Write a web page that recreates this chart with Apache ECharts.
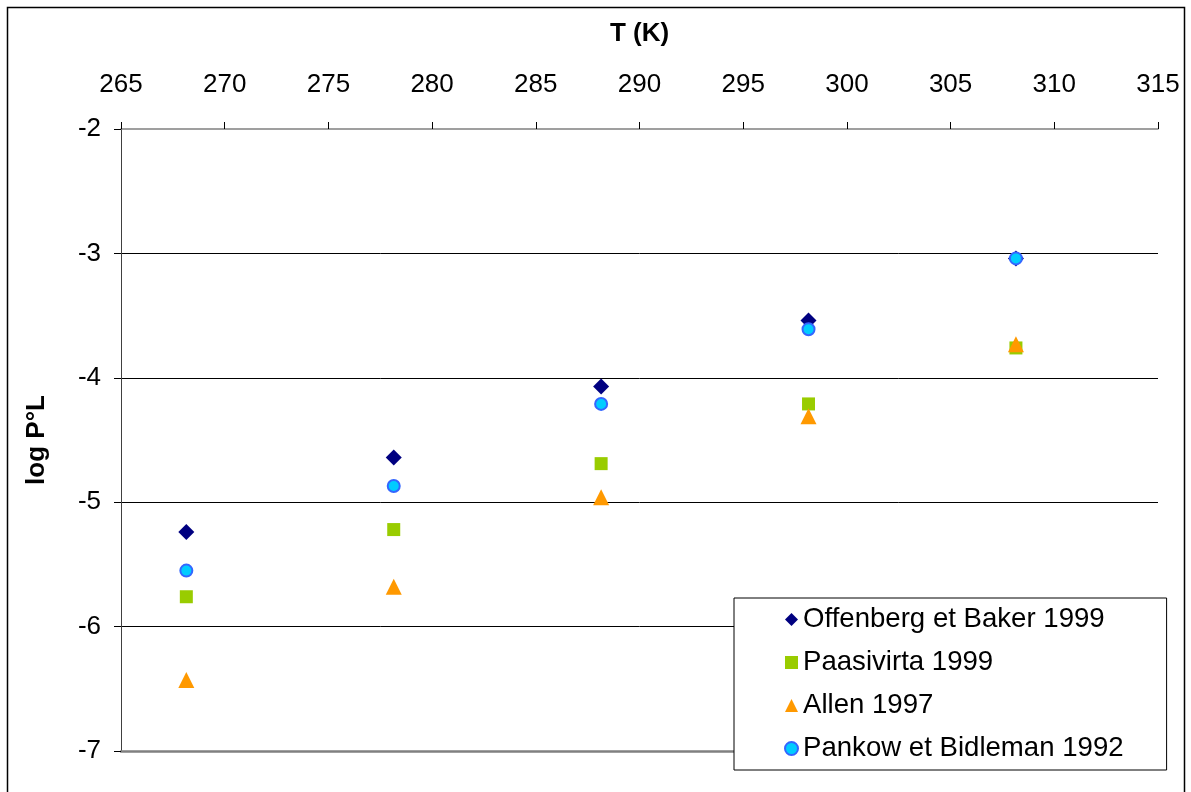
<!DOCTYPE html>
<html><head><meta charset="utf-8">
<script src="https://cdn.jsdelivr.net/npm/echarts@6/dist/echarts.min.js"></script>
<style>html,body{margin:0;padding:0;background:#fff}#c{width:1191px;height:792px}</style>
</head><body><div id="c"></div>
<script>
const temps = [268.15, 278.15, 288.15, 298.15, 308.15];
const offenberg = [-5.24, -4.64, -4.07, -3.54, -3.04];
const paasivirta = [-5.76, -5.22, -4.69, -4.21, -3.76];
const allen = [-6.43, -5.68, -4.96, -4.31, -3.73];
const pankow = [-5.55, -4.87, -4.21, -3.61, -3.04];
const seriesNames = ['Offenberg et Baker 1999', 'Paasivirta 1999', 'Allen 1997', 'Pankow et Bidleman 1992'];

const pair = v => temps.map((t, i) => [t, v[i]]);
const F = '"Liberation Sans", Arial, sans-serif';
const chart = echarts.init(document.getElementById('c'), null, {renderer: 'canvas'});
chart.setOption({
  animation: false,
  backgroundColor: '#fff',
  textStyle: {fontFamily: F},
  graphic: [{type: 'rect', shape: {x: 7.5, y: 7.5, width: 1177, height: 800}, style: {fill: 'none', stroke: '#000', lineWidth: 1.5}, z: 100}],
  grid: {left: 121, right: 33, top: 129, bottom: 41},
  xAxis: [{
    type: 'value', position: 'top', min: 265, max: 315, interval: 5,
    name: 'T (K)', nameLocation: 'middle', nameGap: 82,
    nameTextStyle: {fontSize: 26, fontWeight: 'bold', color: '#000', fontFamily: F},
    axisLine: {show: true, lineStyle: {color: '#808080', width: 1.5}},
    axisTick: {show: true, inside: false, length: 7, lineStyle: {color: '#000'}},
    axisLabel: {fontSize: 26, color: '#000', margin: 31, fontFamily: F},
    splitLine: {show: false}
  }, {
    type: 'value', position: 'bottom', min: 265, max: 315, interval: 5,
    axisLine: {show: true, onZero: false, lineStyle: {color: '#808080', width: 2.5}},
    axisTick: {show: false}, axisLabel: {show: false}, splitLine: {show: false}
  }],
  yAxis: {
    type: 'value', min: -7, max: -2, interval: 1,
    name: 'log P°L', nameLocation: 'middle', nameGap: 71, nameRotate: 90,
    nameTextStyle: {fontSize: 26, fontWeight: 'bold', color: '#000', fontFamily: F},
    axisLine: {show: true, onZero: false, lineStyle: {color: '#404040', width: 1}},
    axisTick: {show: true, inside: false, length: 7, lineStyle: {color: '#000'}},
    axisLabel: {fontSize: 26, color: '#000', margin: 20, fontFamily: F},
    splitLine: {show: true, showMinLine: false, showMaxLine: false, lineStyle: {color: '#000', width: 1}}
  },
  legend: {
    orient: 'vertical', left: 734, top: 598,
    padding: [7, 43, 7, 50], itemGap: 14,
    itemWidth: 13, itemHeight: 13,
    backgroundColor: '#fff', borderColor: '#000', borderWidth: 1,
    textStyle: {fontSize: 27.6, color: '#000', fontFamily: F, lineHeight: 29},
    data: seriesNames
  },
  series: [
    {name: seriesNames[0], type: 'scatter', data: pair(offenberg), symbol: 'diamond', symbolSize: 16,
     itemStyle: {color: '#000080', opacity: 1}},
    {name: seriesNames[1], type: 'scatter', data: pair(paasivirta), symbol: 'rect', symbolSize: 13,
     itemStyle: {color: '#99CC00', opacity: 1}},
    {name: seriesNames[2], type: 'scatter', data: pair(allen), symbol: 'triangle', symbolSize: 16,
     itemStyle: {color: '#FF9900', opacity: 1}},
    {name: seriesNames[3], type: 'scatter', data: pair(pankow), symbol: 'circle', symbolSize: 12,
     itemStyle: {color: '#00CCFF', borderColor: '#3366FF', borderWidth: 2, opacity: 1}}
  ]
});
</script></body></html>
